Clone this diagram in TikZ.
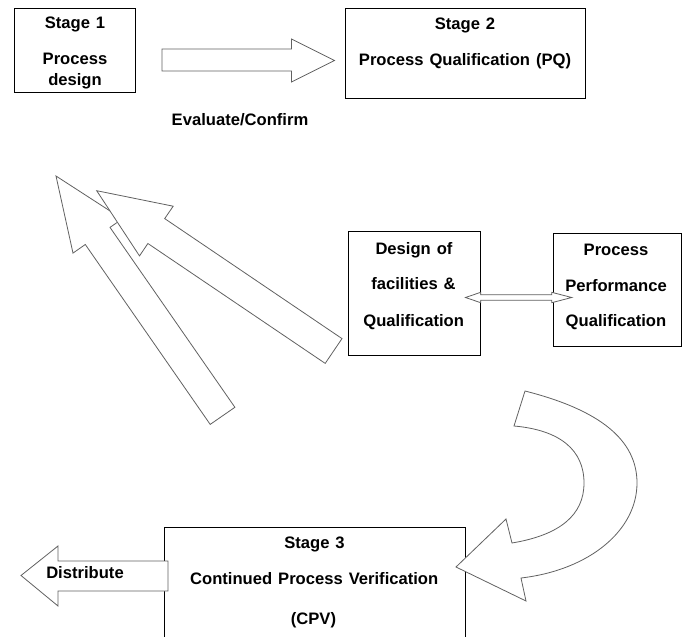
\documentclass[tikz,border=0pt]{standalone}
\usepackage{fontspec}
\setmainfont{Liberation Sans}
\newcommand\widespaces{\spaceskip=0.36em\relax}
\begin{document}
\begin{tikzpicture}[x=1pt,y=-1pt,
  box/.style={draw=black,line width=0.9pt,fill=white,inner sep=0pt},
  blockarrow/.style={draw=black!62,line width=0.8pt,fill=white,line join=miter},
  lbl/.style={font=\bfseries\fontsize{16.6}{19}\selectfont,
    execute at begin node=\widespaces,
    inner sep=0pt,text height=11.9pt,text depth=0pt}]
\useasboundingbox (0,0) rectangle (686,637);
\clip (0,0) rectangle (686,637);

% stage boxes
\node[box,minimum width=121pt,minimum height=84pt] (s1box) at (74.5,50) {};
\node[box,minimum width=240pt,minimum height=90pt] (s2box) at (465,53) {};
\node[box,minimum width=132pt,minimum height=124pt] (dfq) at (414,293) {};
\node[box,minimum width=128pt,minimum height=113pt] (ppq) at (617,289.5) {};
\node[box,minimum width=301pt,minimum height=123pt] (s3box) at (314.5,588.5) {};

% Evaluate/Confirm block arrow
\draw[blockarrow] (162,49) -- (291.5,49) -- (291.5,39) -- (334.5,60.5)
  -- (291.5,82) -- (291.5,71) -- (162,71) -- cycle;

% two-headed arrow between the qualification boxes
\draw[blockarrow] (465.5,297.5) -- (480.7,292.3) -- (480.7,294.7) -- (551.7,294.7)
  -- (551.7,292.3) -- (571.7,297.5) -- (551.7,302.7) -- (551.7,300.3)
  -- (480.7,300.3) -- (480.7,302.7) -- cycle;

% Distribute block arrow
\draw[blockarrow] (168,561) -- (58,561) -- (58,546) -- (21,575.5)
  -- (58,606) -- (58,591) -- (168,591) -- cycle;

% feedback arrows pointing back up to stage 1
\draw[blockarrow] (56,176) -- (122.3,218.9) -- (110.0,227.4) -- (234.9,407.3)
  -- (210.2,424.4) -- (85.3,244.5) -- (73.0,253.1) -- cycle;
\draw[blockarrow] (96.7,190.7) -- (173.2,206.2) -- (164.7,218.6) -- (342.0,338.6)
  -- (325.2,363.4) -- (147.9,243.5) -- (139.5,255.9) -- cycle;

% curved arrow down to stage 3
\draw[blockarrow] (514,426) -- (525,391)
  .. controls (600,410) and (637,440) .. (637,483)
  .. controls (637,530) and (590,570) .. (521,578)
  -- (526,601) -- (456,567) -- (506,519) -- (512,543)
  .. controls (560,535) and (584,515) .. (584,483)
  .. controls (584,450) and (560,430) .. (514,426)
  -- cycle;

% labels
\node[lbl] (s1a) at (75,22.5) {Stage 1};
\node[lbl] (s1b) at (75,59) {Process};
\node[lbl] (s1c) at (75,79.5) {design};
\node[lbl] (evc) at (240,120) {Evaluate/Confirm};
\node[lbl] (s2a) at (465,23.3) {Stage 2};
\node[lbl] (s2b) at (465,60) {Process Qualification (PQ)};
\node[lbl] (d1) at (414,248.3) {Design of};
\node[lbl] (d2) at (413.5,283.3) {facilities \&};
\node[lbl] (d3) at (413.7,320.3) {Qualification};
\node[lbl] (p1) at (616,249.3) {Process};
\node[lbl] (p2) at (616,285.3) {Performance};
\node[lbl] (p3) at (616,320.3) {Qualification};
\node[lbl] (s3a) at (314.5,542.5) {Stage 3};
\node[lbl] (s3b) at (314.2,579) {Continued Process Verification};
\node[lbl] (s3c) at (313.5,619) {(CPV)};
\node[lbl] (dist) at (85,573) {Distribute};
\end{tikzpicture}
\end{document}
